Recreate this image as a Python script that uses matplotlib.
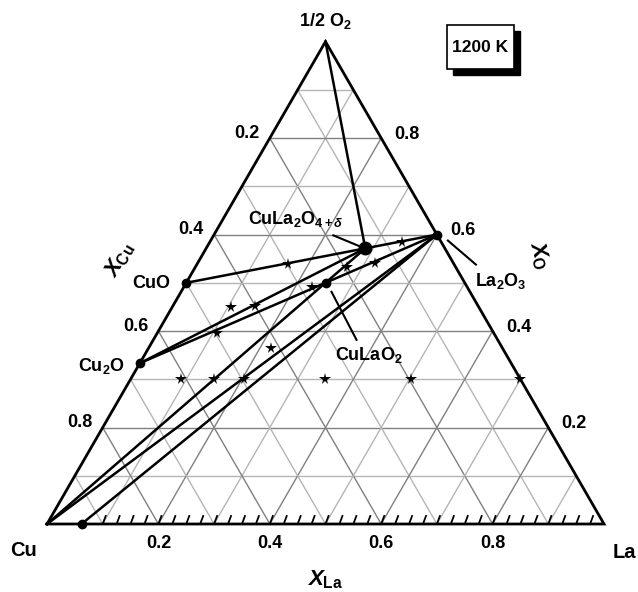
import numpy as np
import matplotlib.pyplot as plt
import matplotlib.patches as mpatches

plt.rcParams['font.family'] = ['Liberation Sans', 'DejaVu Sans']
plt.rcParams['mathtext.fontset'] = 'custom'
plt.rcParams['mathtext.rm'] = 'Liberation Sans:bold'
plt.rcParams['mathtext.it'] = 'Liberation Sans:bold:italic'
plt.rcParams['mathtext.bf'] = 'Liberation Sans:bold'

# phases: composition as (x_La, x_O), x_Cu = 1 - x_La - x_O
phase_names = ['O', 'Cu', 'La', 'CuO', 'Cu2O', 'La2O3', 'CuLa2O4', 'CuLaO2', 'CuLa_bin']
phase_xla = [0.0, 0.0, 1.0, 0.0, 0.0, 0.4, 2 / 7, 0.25, 0.062]
phase_xo = [1.0, 0.0, 0.0, 0.5, 1 / 3, 0.6, 4 / 7, 0.5, 0.0]

# tie lines between phases
tie_lines = [('O', 'CuLa2O4'), ('CuO', 'CuLa2O4'), ('CuLa2O4', 'La2O3'),
             ('Cu2O', 'CuLa2O4'), ('Cu2O', 'La2O3'), ('Cu', 'CuLa2O4'),
             ('Cu', 'La2O3'), ('CuLa_bin', 'La2O3')]

# dots drawn on phases
dot_phases = ['CuO', 'Cu2O', 'La2O3', 'CuLa2O4', 'CuLaO2', 'CuLa_bin']

# experimental compositions (stars)
star_xla = [0.162, 0.344, 0.272, 0.318, 0.229, 0.105, 0.148, 0.108, 0.221,
            0.091, 0.150, 0.204, 0.349, 0.503, 0.700]
star_xo = [0.540, 0.585, 0.533, 0.542, 0.492, 0.450, 0.452, 0.395, 0.364,
           0.300, 0.300, 0.300, 0.300, 0.300, 0.300]

tick_vals = [0.2, 0.4, 0.6, 0.8]

H = np.sqrt(3) / 2
PX = 1 / 557.0   # one pixel in data units


def tern(xla, xo):
    xla = np.asarray(xla, dtype=float)
    xo = np.asarray(xo, dtype=float)
    return xla + xo / 2, xo * H


P = {n: tern(a, o) for n, a, o in zip(phase_names, phase_xla, phase_xo)}

fig = plt.figure(figsize=(6.38, 5.92), dpi=100)
ax = fig.add_axes([0, 0, 1, 1])
ax.set_xlim(-47 * PX, 591 * PX)
ax.set_ylim(-68 * PX, 524 * PX)
ax.axis('off')

# grid, step 0.1 in the three directions
for k in range(1, 10):
    v = k / 10
    c = '#808080' if k % 2 == 0 else '#b5b5b5'
    # constant x_O
    x, y = tern([0, 1 - v], [v, v])
    ax.plot(x, y, color=c, lw=1.0, zorder=1)
    # constant x_La
    x, y = tern([v, v], [0, 1 - v])
    ax.plot(x, y, color=c, lw=1.0, zorder=1)
    # constant x_Cu
    x, y = tern([1 - v, 0], [0, 1 - v])
    ax.plot(x, y, color=c, lw=1.0, zorder=1)

# triangle
x, y = tern([0, 1, 0, 0], [0, 0, 1, 0])
ax.plot(x, y, color='black', lw=2.0, zorder=3, solid_joinstyle='miter')

# hatch ticks on the bottom edge
for v in np.arange(0.1, 0.99, 0.025):
    ax.plot([v, v + 3 * PX], [0, 8 * PX], color='black', lw=1.3, zorder=3)

# tie lines
for a, b in tie_lines:
    ax.plot([P[a][0], P[b][0]], [P[a][1], P[b][1]], color='black', lw=1.8,
            zorder=4)

for n in dot_phases:
    s = 9 if n == 'CuLa2O4' else 6
    ax.plot(*P[n], 'o', color='black', ms=s, zorder=6)

sx, sy = tern(star_xla, star_xo)
ax.plot(sx, sy, '*', color='black', ms=8.5, mew=0, zorder=7)

# axis numbers
fs = 13
for v in tick_vals:
    ax.text(v, -20 * PX, f'{v:.1f}', ha='center', va='center', fontsize=fs,
            fontweight='bold')
    # left edge: x_Cu
    ex, ey = tern(0, 1 - v)
    ax.text(ex - 23 * PX, ey + 5 * PX, f'{v:.1f}', ha='center', va='center',
            fontsize=fs, fontweight='bold')
    # right edge: x_O
    ex, ey = tern(1 - v, v)
    ax.text(ex + 26 * PX, ey + 4 * PX, f'{v:.1f}', ha='center', va='center',
            fontsize=fs, fontweight='bold')

ax.text(-23 * PX, -26 * PX, 'Cu', ha='center', va='center', fontsize=14.5,
        fontweight='bold')
ax.text(577 * PX, -29 * PX, 'La', ha='center', va='center', fontsize=14.5,
        fontweight='bold')
ax.text(P['O'][0], P['O'][1] + 21 * PX, r'1/2 O$_2$', ha='center',
        va='center', fontsize=13, fontweight='bold')

ax.text(278 * PX, -56 * PX, r'$X_{\mathrm{La}}$', ha='center', va='center',
        fontsize=16)
ax.text(73 * PX, 264 * PX, r'$X_{\mathrm{Cu}}$', ha='center', va='center',
        fontsize=16, rotation=60)
ax.text(492 * PX, 269 * PX, r'$X_{\mathrm{O}}$', ha='center', va='center',
        fontsize=16, rotation=-75)

# phase labels
ax.text(P['CuO'][0] - 35 * PX, P['CuO'][1] - 1 * PX, 'CuO', ha='center',
        va='center', fontsize=fs, fontweight='bold')
ax.text(P['Cu2O'][0] - 38 * PX, P['Cu2O'][1] - 3 * PX, r'Cu$_2$O',
        ha='center', va='center', fontsize=fs, fontweight='bold')
ax.text(P['CuLa2O4'][0] - 70 * PX, P['CuLa2O4'][1] + 29 * PX,
        r'CuLa$_2$O$_{4+\delta}$', ha='center', va='center', fontsize=fs,
        fontweight='bold')
ax.text(P['La2O3'][0] + 64 * PX, P['La2O3'][1] - 46 * PX, r'La$_2$O$_3$',
        ha='center', va='center', fontsize=fs, fontweight='bold')
ax.text(P['CuLaO2'][0] + 43 * PX, P['CuLaO2'][1] - 72 * PX, r'CuLaO$_2$',
        ha='center', va='center', fontsize=fs, fontweight='bold')

# pointer lines
pointers = [('CuLa2O4', (-32, 13), (-3, 1)),
            ('La2O3', (11, -6), (39, -30)),
            ('CuLaO2', (6, -9), (31, -57))]
for n, (dx0, dy0), (dx1, dy1) in pointers:
    ax.plot([P[n][0] + dx0 * PX, P[n][0] + dx1 * PX],
            [P[n][1] + dy0 * PX, P[n][1] + dy1 * PX], color='black', lw=1.5,
            zorder=5)

# temperature box with shadow
bx0, by0, bw, bh = 400 * PX, 455 * PX, 67 * PX, 44 * PX
ax.add_patch(mpatches.Rectangle((bx0 + 6 * PX, by0 - 6 * PX), bw, bh,
                                facecolor='black', edgecolor='black', zorder=8))
ax.add_patch(mpatches.Rectangle((bx0, by0), bw, bh, facecolor='white',
                                edgecolor='black', lw=1.2, zorder=9))
ax.text(bx0 + bw / 2, by0 + bh / 2, '1200 K', ha='center', va='center',
        fontsize=12.5, fontweight='bold', zorder=10)

fig.savefig('out.png', dpi=100, facecolor='white')
